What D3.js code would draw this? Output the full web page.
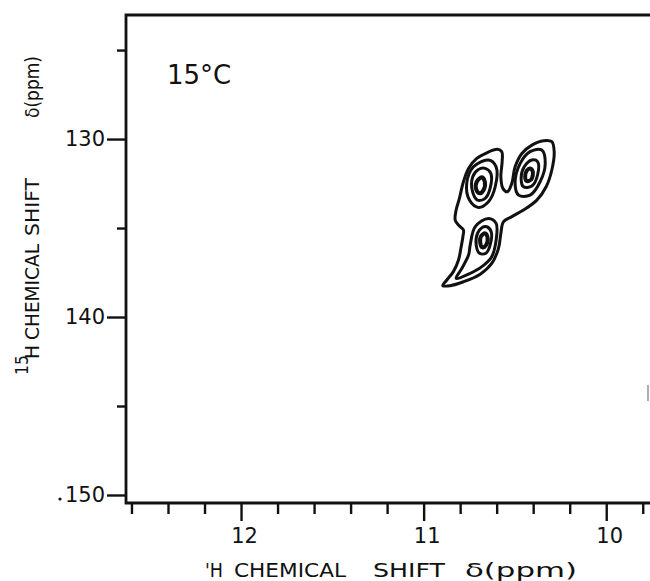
<!DOCTYPE html>
<html>
<head>
<meta charset="utf-8">
<script src="https://cdn.jsdelivr.net/npm/d3@7"></script>
<style>
  html, body { margin: 0; padding: 0; background: #fff; }
  svg { display: block; }
  text { font-family: "DejaVu Sans", sans-serif; fill: #111; }
</style>
</head>
<body>
<svg id="chart" width="650" height="581"></svg>
<script>
// ---------- data (ppm) ----------
const xMajorTicks = [12, 11, 10];
const xMajorLabels = ["12", "11", "10"];
const xMinorTicks = [12.6, 12.4, 12.2, 11.8, 11.6, 11.4, 11.2, 10.8, 10.6, 10.4, 10.2, 9.8];
const yMajorTicks = [130, 140, 150];
const yMajorLabels = ["130", "140", "150"];
const yMinorTicks = [125, 135, 145];
const tempLabel = "15°C";

// contour traces: [1H ppm, 15N ppm]
const outerContour = [
  [10.895,138.24],[10.873,137.92],[10.837,137.45],[10.809,136.80],[10.796,136.14],
  [10.785,135.49],[10.782,135.11],[10.804,134.89],[10.827,134.55],[10.822,133.99],
  [10.804,133.33],[10.782,132.40],[10.754,131.65],[10.709,131.09],[10.654,130.77],
  [10.596,130.58],[10.572,130.71],[10.570,131.27],[10.577,132.12],[10.566,132.77],
  [10.541,132.96],[10.517,132.49],[10.499,131.56],[10.462,130.81],[10.407,130.34],
  [10.343,130.09],[10.298,130.15],[10.285,130.71],[10.298,131.74],[10.329,132.68],
  [10.380,133.43],[10.453,133.99],[10.517,134.36],[10.563,134.65],[10.577,135.30],
  [10.590,136.14],[10.627,136.99],[10.690,137.59],[10.782,138.02],[10.855,138.24]
];
const ringA2 = [[10.645,131.18],[10.603,131.56],[10.608,132.68],[10.645,133.52],[10.700,133.84],[10.749,133.43],[10.764,132.49],[10.727,131.56]];
const ringA3 = [[10.663,131.65],[10.632,131.93],[10.636,132.77],[10.663,133.33],[10.705,133.43],[10.732,132.96],[10.731,132.12],[10.700,131.71]];
const ringA4 = [[10.681,132.15],[10.665,132.40],[10.672,132.87],[10.694,133.05],[10.712,132.83],[10.709,132.40]];
const ringB2 = [[10.417,130.71],[10.353,130.62],[10.334,131.37],[10.362,132.40],[10.417,133.15],[10.480,133.15],[10.499,132.49],[10.471,131.37]];
const ringB3 = [[10.407,131.18],[10.376,131.27],[10.376,132.02],[10.407,132.64],[10.453,132.68],[10.466,132.21],[10.449,131.56]];
const ringB4 = [[10.417,131.65],[10.402,131.84],[10.411,132.27],[10.435,132.36],[10.444,132.12],[10.435,131.78]];
const ringC2 = [[10.645,134.46],[10.603,134.74],[10.603,135.68],[10.627,136.61],[10.681,137.17],[10.754,137.59],
                [10.822,137.83],[10.791,137.27],[10.754,136.52],[10.745,135.96],[10.718,134.93]];
const ringC3 = [[10.654,134.93],[10.630,135.21],[10.636,135.96],[10.659,136.42],[10.694,136.42],[10.712,135.96],[10.705,135.30],[10.681,134.98]];
const ringC4 = [[10.663,135.30],[10.650,135.53],[10.658,135.96],[10.678,136.09],[10.690,135.82],[10.685,135.45]];
const contours = [outerContour, ringA2, ringA3, ringB2, ringB3, ringC2, ringC3];
const cores = [ringA4, ringB4, ringC4];

// ---------- layout ----------
const svg = d3.select("#chart");
const mLeft = 126, mTop = 15, mRight = 661, mBottom = 503;
const x = d3.scaleLinear().domain([12.63, 9.70]).range([mLeft, mRight]);
const y = d3.scaleLinear().domain([123.03, 150.45]).range([mTop, mBottom]);
const ink = "#111";

// frame (top, left, bottom)
svg.append("path")
  .attr("d", `M${mRight},${mTop}H${mLeft}V${mBottom}H${mRight}`)
  .attr("fill", "none").attr("stroke", ink).attr("stroke-width", 2.8);

// x axis ticks
const gx = svg.append("g").attr("transform", `translate(0,${mBottom})`);
gx.call(d3.axisBottom(x).tickValues(xMinorTicks).tickSize(11).tickFormat(""));
gx.call(g => g.select(".domain").remove());
const gx2 = svg.append("g").attr("transform", `translate(0,${mBottom})`);
gx2.call(d3.axisBottom(x).tickValues(xMajorTicks).tickSize(18)
  .tickFormat((d, i) => xMajorLabels[i]).tickPadding(7));
gx2.call(g => g.select(".domain").remove());
gx2.selectAll("text").attr("font-size", 21).attr("font-family", "DejaVu Sans").attr("fill", ink).attr("dx", 3);

// y axis ticks
const gy = svg.append("g").attr("transform", `translate(${mLeft},0)`);
gy.call(d3.axisLeft(y).tickValues(yMinorTicks).tickSize(9).tickFormat(""));
gy.call(g => g.select(".domain").remove());
const gy2 = svg.append("g").attr("transform", `translate(${mLeft},0)`);
gy2.call(d3.axisLeft(y).tickValues(yMajorTicks).tickSize(19)
  .tickFormat((d, i) => yMajorLabels[i]).tickPadding(2));
gy2.call(g => g.select(".domain").remove());
gy2.selectAll("text").attr("font-size", 21).attr("font-family", "DejaVu Sans").attr("fill", ink);
svg.selectAll("g.tick line").attr("stroke", ink).attr("stroke-width", 2.4);

// speck before 150
svg.append("circle").attr("cx", mLeft - 66).attr("cy", y(150) + 4).attr("r", 1.6).attr("fill", ink);

// temperature label
svg.append("text").attr("x", 167).attr("y", 84).attr("font-size", 26).text(tempLabel);

// x axis title
const xt = svg.append("g").attr("font-size", 20);
function xlab(txt, cx, w) {
  xt.append("text").attr("x", cx).attr("y", 577).attr("text-anchor", "middle")
    .attr("textLength", w).attr("lengthAdjust", "spacingAndGlyphs").text(txt);
}
xlab("'H", 214, 18);
xlab("CHEMICAL", 290, 112);
xlab("SHIFT", 409, 72);
xlab("δ(ppm)", 521, 112);

// y axis title (rotated)
const yt = svg.append("g").attr("font-size", 19);
function ylab(txt, cy, bx, fs, w) {
  yt.append("text").attr("transform", `translate(${bx},${cy}) rotate(-90)`)
    .attr("text-anchor", "middle").attr("font-size", fs)
    .attr("textLength", w).attr("lengthAdjust", "spacingAndGlyphs").text(txt);
}
ylab("15", 365, 28, 17, 20);
ylab("H", 352, 39, 19, 14);
ylab("CHEMICAL", 292, 39, 19, 96);
ylab("SHIFT", 207, 39, 19, 58);
ylab("δ(ppm)", 87, 39, 19, 62);

// contours
const line = d3.line().x(d => x(d[0])).y(d => y(d[1])).curve(d3.curveCatmullRomClosed.alpha(0.5));
svg.append("g").selectAll("path").data(contours).join("path")
  .attr("d", line).attr("fill", "none").attr("stroke", ink)
  .attr("stroke-width", 3).attr("stroke-linejoin", "round");
svg.append("g").selectAll("path").data(cores).join("path")
  .attr("d", line).attr("fill", "none").attr("stroke", ink)
  .attr("stroke-width", 4).attr("stroke-linejoin", "round");

// small edge mark at right
svg.append("line").attr("x1", 648).attr("x2", 648).attr("y1", 385).attr("y2", 401)
  .attr("stroke", "#777").attr("stroke-width", 1.2);
</script>
</body>
</html>
